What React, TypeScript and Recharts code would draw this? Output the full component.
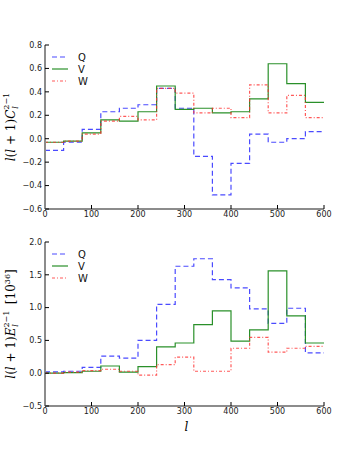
import React from "react";
import {
  LineChart,
  Line,
  XAxis,
  YAxis,
  Legend,
} from "recharts";

// bin edges in l (last edge closes the final step)
const binEdges = [0, 40, 80, 120, 160, 200, 240, 280, 320, 360, 400, 440, 480, 520, 560, 600];

// top panel: l(l+1) C_l^{2-1}
const qC = [-0.1, -0.03, 0.08, 0.23, 0.26, 0.29, 0.43, 0.26, -0.15, -0.48, -0.21, 0.04, -0.03, 0.0, 0.06];
const vC = [-0.03, -0.02, 0.05, 0.16, 0.15, 0.23, 0.45, 0.25, 0.26, 0.22, 0.23, 0.34, 0.64, 0.47, 0.31];
const wC = [-0.03, -0.02, 0.04, 0.15, 0.19, 0.16, 0.43, 0.39, 0.22, 0.26, 0.18, 0.46, 0.22, 0.37, 0.18];

// bottom panel: l(l+1) E_l^{2-1} [10^36]
const qE = [0.02, 0.03, 0.09, 0.26, 0.23, 0.5, 1.05, 1.63, 1.745, 1.425, 1.3, 0.98, 0.76, 0.99, 0.31];
const vE = [0.0, 0.01, 0.03, 0.11, 0.015, 0.1, 0.4, 0.46, 0.74, 0.95, 0.49, 0.66, 1.56, 0.875, 0.46];
const wE = [0.0, 0.015, 0.04, 0.06, 0.03, -0.03, 0.13, 0.245, 0.03, 0.03, 0.38, 0.545, 0.32, 0.38, 0.41];

const xTicks = [0, 100, 200, 300, 400, 500, 600];
const topTicks = [-0.6, -0.4, -0.2, 0.0, 0.2, 0.4, 0.6, 0.8];
const bottomTicks = [-0.5, 0.0, 0.5, 1.0, 1.5, 2.0];

const SERIES = [
  { key: "Q", color: "#2b2bff", dash: "5 3", opacity: 0.85 },
  { key: "V", color: "#1f8a1f", dash: undefined, opacity: 0.95 },
  { key: "W", color: "#ff3030", dash: "3 2 1 2", opacity: 0.8 },
];

// step data: repeat the last value at the closing edge
const buildRows = (q: number[], v: number[], w: number[]) =>
  binEdges.map((l, i) => {
    const j = Math.min(i, q.length - 1);
    return { l, Q: q[j], V: v[j], W: w[j] };
  });

const topRows = buildRows(qC, vC, wC);
const bottomRows = buildRows(qE, vE, wE);

const fmt = (v: number) => {
  const s = v.toFixed(1);
  return v < 0 ? "\u2212" + s.slice(1) : s;
};

const SPINE = "#8c8c8c";
const tickFont = { fontSize: 8, fill: "#222", fontFamily: "DejaVu Sans" };

const LegendBox = () => (
  <svg width={50} height={36}>
    {SERIES.map((s, i) => (
      <g key={s.key}>
        <line
          x1={2}
          x2={18}
          y1={5 + i * 12}
          y2={5 + i * 12}
          stroke={s.color}
          strokeOpacity={s.opacity}
          strokeWidth={1.2}
          strokeDasharray={s.dash}
        />
        <text x={28} y={9 + i * 12} fontSize={10} fontFamily="DejaVu Sans" fill="#111">
          {s.key}
        </text>
      </g>
    ))}
  </svg>
);

const YTitle = ({ x, y, letter, unit }: { x: number; y: number; letter: string; unit?: boolean }) => (
  <text
    x={x}
    y={y}
    transform={`rotate(-90 ${x} ${y})`}
    textAnchor="middle"
    fontFamily="DejaVu Serif"
    fontSize={12}
    fill="#000"
  >
    <tspan fontStyle="italic">l</tspan>
    <tspan>(</tspan>
    <tspan fontStyle="italic">l</tspan>
    <tspan>{" + 1)"}</tspan>
    <tspan fontStyle="italic">{letter}</tspan>
    <tspan fontSize={8} dy={-6}>{"2\u22121"}</tspan>
    <tspan fontSize={8} fontStyle="italic" dx={-16} dy={9}>l</tspan>
    {unit && <tspan dx={20} dy={-3}>[10</tspan>}
    {unit && <tspan fontSize={8} dy={-5}>36</tspan>}
    {unit && <tspan dy={5}>]</tspan>}
  </text>
);

const Panel = ({
  rows,
  domain,
  ticks,
  height,
  marginTop,
  marginBottom,
  letter,
  unit,
  xTitle,
}: {
  rows: any[];
  domain: [number, number];
  ticks: number[];
  height: number;
  marginTop: number;
  marginBottom: number;
  letter: string;
  unit?: boolean;
  xTitle?: boolean;
}) => (
  <LineChart
    width={360}
    height={height}
    data={rows}
    margin={{ top: marginTop, right: 36, bottom: marginBottom, left: 15 }}
  >
    <XAxis
      xAxisId="b"
      dataKey="l"
      type="number"
      domain={[0, 600]}
      ticks={xTicks}
      height={20}
      tickSize={-4}
      tickMargin={6}
      tick={tickFont}
      axisLine={{ stroke: SPINE, strokeWidth: 2 }}
      tickLine={{ stroke: "#000" }}
      label={
        xTitle
          ? {
              content: ({ viewBox }: any) => (
                <text
                  x={viewBox.x + viewBox.width / 2 + 2}
                  y={viewBox.y + 25}
                  textAnchor="middle"
                  fontFamily="DejaVu Serif"
                  fontStyle="italic"
                  fontSize={12}
                >
                  l
                </text>
              ),
            }
          : undefined
      }
    />
    <XAxis
      xAxisId="t"
      orientation="top"
      dataKey="l"
      type="number"
      domain={[0, 600]}
      ticks={xTicks}
      height={0}
      tickSize={-4}
      tickFormatter={() => ""}
      axisLine={{ stroke: SPINE, strokeWidth: 2 }}
      tickLine={{ stroke: "#000" }}
    />
    <YAxis
      yAxisId="l"
      type="number"
      domain={domain}
      ticks={ticks}
      width={30}
      tickSize={-4}
      tickMargin={7}
      tick={tickFont}
      tickFormatter={fmt}
      allowDataOverflow
      axisLine={{ stroke: SPINE, strokeWidth: 2 }}
      tickLine={{ stroke: "#000" }}
      label={{
        content: ({ viewBox }: any) => (
          <YTitle x={15} y={viewBox.y + viewBox.height / 2} letter={letter} unit={unit} />
        ),
      }}
    />
    <YAxis
      yAxisId="r"
      orientation="right"
      type="number"
      domain={domain}
      ticks={ticks}
      width={0}
      tickSize={-4}
      tickFormatter={() => ""}
      axisLine={{ stroke: SPINE, strokeWidth: 2 }}
      tickLine={{ stroke: "#000" }}
    />
    {SERIES.map((s) => (
      <Line
        key={s.key}
        xAxisId="b"
        yAxisId="l"
        type="stepAfter"
        dataKey={s.key}
        stroke={s.color}
        strokeOpacity={s.opacity}
        strokeWidth={1.2}
        strokeDasharray={s.dash}
        dot={false}
        activeDot={false}
        isAnimationActive={false}
      />
    ))}
    <Legend
      layout="vertical"
      align="center"
      verticalAlign="middle"
      content={() => <LegendBox />}
      wrapperStyle={{ left: 50, top: marginTop + 7, width: 50, height: 36 }}
    />
  </LineChart>
);

export default function App() {
  return (
    <div
      style={{
        position: "absolute",
        left: 0,
        top: 0,
        width: 360,
        height: 452,
        background: "#fff",
      }}
    >
      <div style={{ position: "absolute", left: 0, top: 0 }}>
        <Panel
          rows={topRows}
          domain={[-0.6, 0.8]}
          ticks={topTicks}
          height={230}
          marginTop={45}
          marginBottom={1}
          letter="C"
        />
      </div>
      <div style={{ position: "absolute", left: 0, top: 225 }}>
        <Panel
          rows={bottomRows}
          domain={[-0.5, 2.0]}
          ticks={bottomTicks}
          height={227}
          marginTop={17}
          marginBottom={26}
          letter="E"
          unit
          xTitle
        />
      </div>
    </div>
  );
}
